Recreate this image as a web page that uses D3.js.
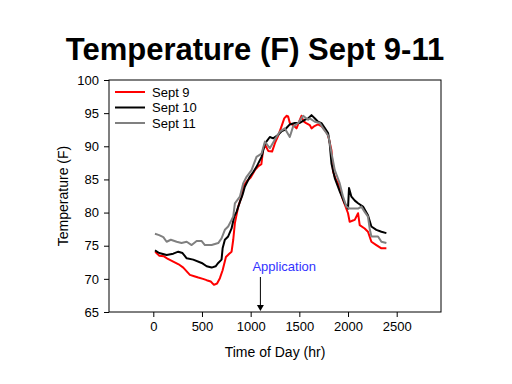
<!DOCTYPE html>
<html>
<head>
<meta charset="utf-8">
<script src="https://cdn.jsdelivr.net/npm/d3@7"></script>
<style>
  body { margin: 0; background: #fff; }
  svg { display: block; font-family: "Liberation Sans", Arial, sans-serif; }
</style>
</head>
<body>
<svg id="chart" width="512" height="384"></svg>
<script>
// [time of day (hr), temperature (F)]
const sept9 = [
  [20, 74.1], [60, 73.5], [110, 73.4], [150, 73.0], [205, 72.6], [260, 72.2], [308, 71.7],
  [376, 70.6], [420, 70.4], [462, 70.2], [510, 70.0], [548, 69.8], [590, 69.6], [623, 69.1],
  [655, 69.3], [684, 70.1], [712, 71.3], [746, 73.3], [780, 73.8], [804, 74.1], [821, 75.9],
  [838, 78.4], [872, 80.9], [907, 82.4], [923, 83.9], [958, 84.7], [1000, 85.3], [1043, 86.4],
  [1080, 87.0], [1110, 87.3], [1128, 89.5], [1150, 90.2], [1180, 89.3], [1220, 89.2],
  [1250, 90.5], [1280, 91.5], [1317, 93.0], [1345, 94.2], [1368, 94.6], [1385, 94.5],
  [1402, 93.5], [1436, 93.2], [1471, 92.7], [1505, 94.0], [1522, 94.6], [1540, 93.8],
  [1570, 93.5], [1607, 93.2], [1625, 92.7], [1650, 93.0], [1692, 93.3], [1730, 93.0],
  [1760, 92.5], [1795, 91.7], [1830, 89.4], [1846, 86.2], [1870, 85.2], [1897, 84.4],
  [1925, 83.0], [1949, 81.9], [2000, 79.9], [2017, 78.6], [2050, 78.8], [2069, 78.9],
  [2103, 79.9], [2120, 78.1], [2171, 77.6], [2205, 77.1], [2240, 75.6], [2291, 75.1],
  [2343, 74.6], [2394, 74.6]
];
const sept10 = [
  [17, 74.3], [60, 73.9], [137, 73.6], [205, 73.8], [257, 74.1], [300, 73.9], [343, 73.1],
  [410, 72.9], [497, 72.4], [548, 71.9], [599, 71.7], [640, 71.9], [667, 72.4], [701, 72.9],
  [712, 74.6], [735, 75.9], [769, 76.4], [804, 77.6], [831, 79.4], [855, 80.1], [889, 81.6],
  [917, 82.7], [940, 83.9], [991, 85.4], [1030, 86.2], [1060, 86.9], [1112, 88.4],
  [1146, 90.4], [1197, 91.4], [1231, 91.2], [1280, 91.7], [1320, 92.3], [1351, 92.5],
  [1402, 93.3], [1453, 93.5], [1500, 93.5], [1556, 94.0], [1590, 94.2], [1625, 94.7],
  [1660, 94.2], [1692, 93.7], [1727, 93.5], [1760, 92.8], [1795, 92.0], [1812, 90.4],
  [1830, 87.4], [1864, 85.2], [1915, 83.2], [1966, 81.4], [2000, 80.6], [2010, 83.7],
  [2035, 82.4], [2070, 81.8], [2103, 81.4], [2154, 80.9], [2205, 79.6], [2240, 77.9],
  [2291, 77.4], [2343, 77.1], [2394, 76.9]
];
const sept11 = [
  [17, 76.8], [60, 76.6], [103, 76.3], [137, 75.6], [180, 75.9], [240, 75.6], [290, 75.4],
  [343, 75.6], [394, 75.1], [445, 75.7], [497, 75.7], [530, 75.1], [599, 75.1], [667, 75.4],
  [701, 76.1], [735, 77.4], [769, 77.9], [804, 78.9], [821, 79.4], [838, 81.4], [889, 82.4],
  [923, 84.4], [958, 85.4], [1009, 86.4], [1060, 88.4], [1112, 88.9], [1146, 90.7],
  [1197, 89.7], [1248, 91.0], [1300, 92.2], [1351, 92.7], [1402, 91.4], [1436, 93.0],
  [1487, 93.5], [1539, 94.6], [1590, 94.0], [1607, 94.2], [1659, 93.7], [1710, 93.5],
  [1744, 92.7], [1778, 92.0], [1800, 91.5], [1830, 89.0], [1864, 86.4], [1915, 84.4],
  [1949, 82.4], [1983, 80.9], [2017, 80.6], [2103, 80.6], [2137, 80.9], [2171, 80.1],
  [2205, 79.4], [2222, 77.6], [2240, 76.4], [2308, 76.4], [2343, 75.6], [2394, 75.4]
];
const seriesNames = ['Sept 9', 'Sept 10', 'Sept 11'];
const xTicks = [0, 500, 1000, 1500, 2000, 2500];
const yTicks = [65, 70, 75, 80, 85, 90, 95, 100];
const applicationTime = 1100;

const svg = d3.select('#chart');
const margin = { top: 80, right: 71, bottom: 72, left: 109 };
const width = 512, height = 384;

const x = d3.scaleLinear().domain([-455, 2955]).range([margin.left, width - margin.right]);
const y = d3.scaleLinear().domain([65, 100]).range([height - margin.bottom, margin.top]);

// title
svg.append('text')
  .attr('x', 255).attr('y', 60)
  .attr('text-anchor', 'middle')
  .attr('font-size', 31).attr('font-weight', 'bold')
  .text('Temperature (F) Sept 9-11');

// frame
svg.append('rect')
  .attr('x', x.range()[0]).attr('y', y.range()[1])
  .attr('width', x.range()[1] - x.range()[0])
  .attr('height', y.range()[0] - y.range()[1])
  .attr('fill', 'none').attr('stroke', '#000').attr('stroke-width', 1);

// axes
const xAxis = svg.append('g')
  .attr('transform', `translate(0,${y.range()[0]})`)
  .call(d3.axisBottom(x).tickValues(xTicks).tickSize(5).tickPadding(5).tickFormat(d3.format('d')));
const yAxis = svg.append('g')
  .attr('transform', `translate(${x.range()[0]},0)`)
  .call(d3.axisLeft(y).tickValues(yTicks).tickSize(5).tickPadding(5));
[xAxis, yAxis].forEach(g => {
  g.select('.domain').remove();
  g.selectAll('text').attr('font-size', 13).attr('font-family', '"Liberation Sans", Arial, sans-serif').attr('fill', '#000');
  g.selectAll('line').attr('stroke', '#000');
});

// axis titles
svg.append('text')
  .attr('x', (x.range()[0] + x.range()[1]) / 2).attr('y', 357)
  .attr('text-anchor', 'middle').attr('font-size', 14)
  .text('Time of Day (hr)');
svg.append('text')
  .attr('transform', `translate(68,${(y.range()[0] + y.range()[1]) / 2}) rotate(-90)`)
  .attr('text-anchor', 'middle').attr('font-size', 14)
  .text('Temperature (F)');

// lines
const colors = ['#ff0000', '#000000', '#808080'];
const line = d3.line().x(d => x(d[0])).y(d => y(d[1]));
[sept9, sept10, sept11].forEach((s, i) => {
  svg.append('path')
    .datum(s)
    .attr('d', line)
    .attr('fill', 'none')
    .attr('stroke', colors[i])
    .attr('stroke-width', 2)
    .attr('stroke-linejoin', 'round');
});

// legend
const legend = svg.append('g').attr('transform', 'translate(115,92)');
seriesNames.forEach((name, i) => {
  const row = legend.append('g').attr('transform', `translate(0,${i * 15.5})`);
  row.append('line').attr('x1', 0).attr('x2', 30).attr('y1', 0).attr('y2', 0)
    .attr('stroke', colors[i]).attr('stroke-width', 2);
  row.append('text').attr('x', 37).attr('y', 4.5).attr('font-size', 13).text(name);
});

// application annotation
const ax = x(applicationTime);
svg.append('text')
  .attr('x', ax - 8).attr('y', 271)
  .attr('font-size', 13).attr('fill', '#3333ff')
  .text('Application');
svg.append('line')
  .attr('x1', ax).attr('x2', ax).attr('y1', 277).attr('y2', 306)
  .attr('stroke', '#000').attr('stroke-width', 1);
svg.append('path')
  .attr('d', `M${ax - 3.5},305 L${ax + 3.5},305 L${ax},311 Z`)
  .attr('fill', '#000');
</script>
</body>
</html>
